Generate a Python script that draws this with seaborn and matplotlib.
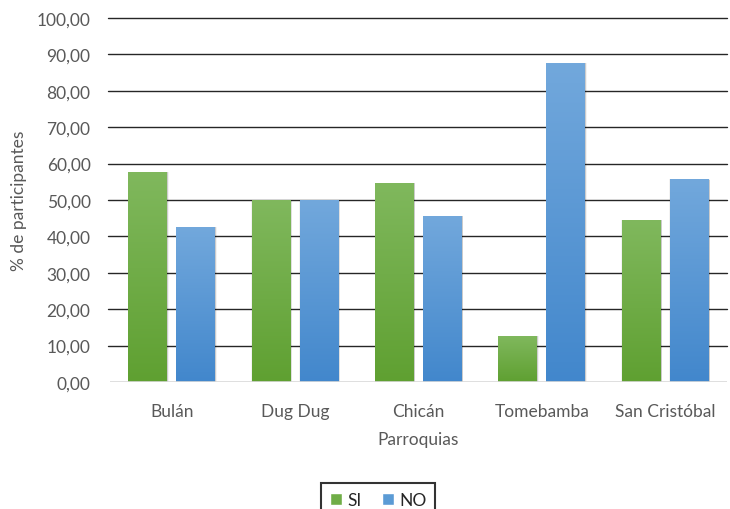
import numpy as np
import pandas as pd
import matplotlib
matplotlib.use("Agg")
import matplotlib.pyplot as plt
from matplotlib.patches import Rectangle, Patch
from matplotlib.colors import LinearSegmentedColormap
import seaborn as sns

parroquias = ["Bulán", "Dug Dug", "Chicán", "Tomebamba", "San Cristóbal"]
si = [57.58, 50.00, 54.55, 12.50, 44.44]
no = [42.42, 50.00, 45.45, 87.50, 55.56]
yticks = [0, 10, 20, 30, 40, 50, 60, 70, 80, 90, 100]

df = pd.DataFrame({
    "Parroquia": parroquias * 2,
    "Respuesta": ["SI"] * len(parroquias) + ["NO"] * len(parroquias),
    "Valor": si + no,
})

sns.set_theme(style="white")
plt.rcParams["font.family"] = ["Lato", "DejaVu Sans"]

fig = plt.figure(figsize=(7.3, 5.1), dpi=100)
ax = fig.add_axes([0.1507, 0.249, 0.8452, 0.7137])

palette = {"SI": "#70ad47", "NO": "#5b9bd5"}
sns.barplot(data=df, x="Parroquia", y="Valor", hue="Respuesta",
            palette=palette, width=0.778, gap=0.19, ax=ax,
            legend=False, errorbar=None, zorder=3)

grads = {
    "SI": LinearSegmentedColormap.from_list("g", ["#5fa031", "#80b85d"]),
    "NO": LinearSegmentedColormap.from_list("b", ["#4287cc", "#72a8dc"]),
}
grad = np.linspace(0, 1, 256).reshape(-1, 1)

n = len(parroquias)
for i, p in enumerate(ax.patches[: 2 * n]):
    key = "SI" if i < n else "NO"
    x0, w = p.get_x(), p.get_width()
    h = p.get_height()
    # soft drop shadow behind each bar
    for k, a in zip([0.018, 0.012, 0.006], [0.05, 0.07, 0.09]):
        ax.add_patch(Rectangle((x0 - k * 0.4 + 0.004, 0), w + 2 * k * 0.4, h + k * 6,
                               facecolor="#000000", alpha=a, lw=0, zorder=2))
    p.set_alpha(0)
    ax.imshow(grad, extent=[x0, x0 + w, 0, h], origin="lower", aspect="auto",
              cmap=grads[key], zorder=3.5)

ax.set_xlim(-0.5, n - 0.5)
ax.set_ylim(0, 100)
ax.set_yticks(yticks)
ax.set_yticklabels([f"{v:.2f}".replace(".", ",") for v in yticks])
for v in yticks[1:]:
    ax.axhline(v, color="#262626", lw=1.0, zorder=1, xmin=-0.004, clip_on=False)
ax.axhline(0, color="#d9d9d9", lw=1.2, zorder=4)

for s in ax.spines.values():
    s.set_visible(False)
ax.tick_params(axis="both", length=0, labelsize=12.5, colors="#595959")
ax.tick_params(axis="y", pad=14)
ax.tick_params(axis="x", pad=15)

ax.set_xlabel("Parroquias", fontsize=12.5, color="#595959", labelpad=9)
ax.set_ylabel("% de participantes", fontsize=12.5, color="#595959", labelpad=7)

handles = [Patch(facecolor="#70ad47", label="SI"), Patch(facecolor="#5b9bd5", label="NO")]
leg = fig.legend(handles=handles, loc="upper center", bbox_to_anchor=(0.518, 0.068),
                 ncol=2, frameon=True, fontsize=12.5, handlelength=0.7, handleheight=0.7,
                 handletextpad=0.3, columnspacing=1.2, fancybox=False, borderpad=0.5)
leg.get_frame().set_edgecolor("#000000")
leg.get_frame().set_linewidth(1.5)

fig.savefig("out.png", dpi=100)
